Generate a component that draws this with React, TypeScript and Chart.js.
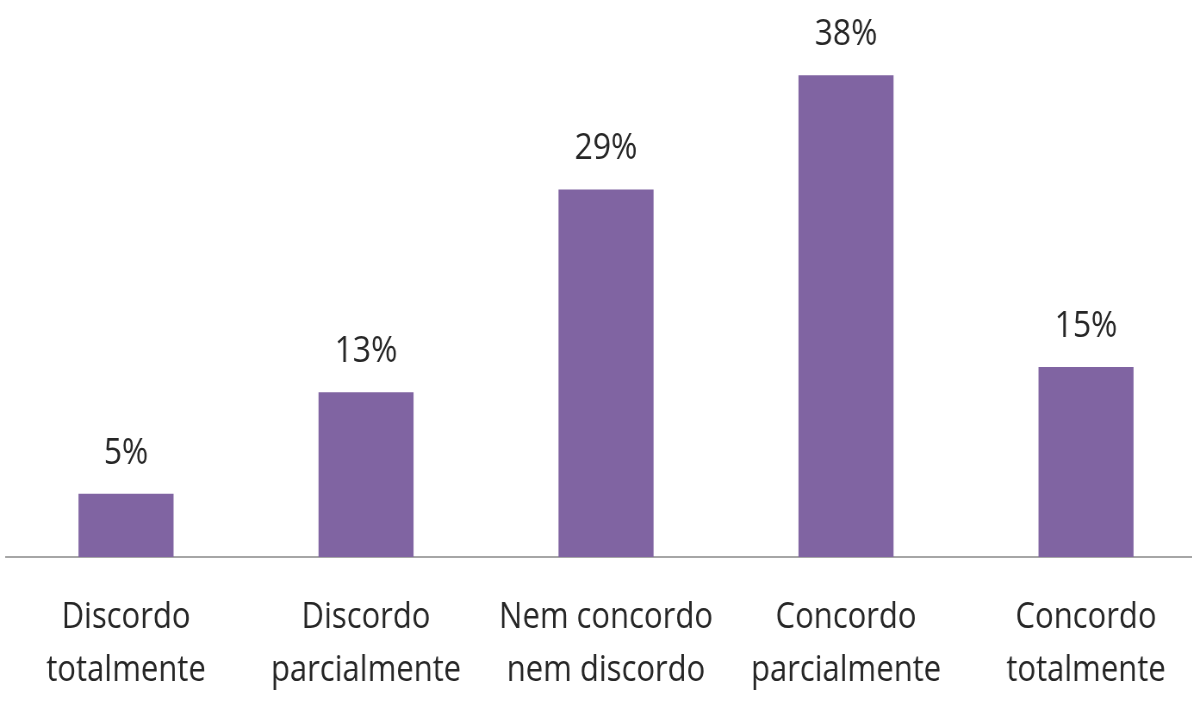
import React, { useEffect, useRef } from "react";
import { Chart, registerables } from "chart.js";

Chart.register(...registerables);

const categories: string[][] = [
  ["Discordo", "totalmente"],
  ["Discordo", "parcialmente"],
  ["Nem concordo", "nem discordo"],
  ["Concordo", "parcialmente"],
  ["Concordo", "totalmente"],
];
const values: number[] = [5, 13, 29, 38, 15];
const valueLabels: string[] = ["5%", "13%", "29%", "38%", "15%"];

const FONT = "'Open Sans', sans-serif";
const TEXT = "#262626";
const BAR = "#8064A2";

// Canvas is drawn wider and displayed compressed horizontally (narrow type look)
const DISPLAY_W = 1206;
const VIRTUAL_W = 1400;
const H = 718;

const labelPlugin = {
  id: "valueLabels",
  afterDatasetsDraw(chart: any) {
    const ctx = chart.ctx;
    const meta = chart.getDatasetMeta(0);
    ctx.save();
    ctx.font = `37px ${FONT}`;
    ctx.fillStyle = TEXT;
    ctx.textAlign = "center";
    ctx.textBaseline = "alphabetic";
    meta.data.forEach((bar: any, i: number) => {
      ctx.fillText(valueLabels[i], bar.x, bar.y - 30);
    });
    ctx.restore();
  },
};

export default function App() {
  const ref = useRef<HTMLCanvasElement>(null);
  useEffect(() => {
    if (!ref.current) return;
    const chart = new Chart(ref.current, {
      type: "bar",
      data: {
        labels: categories,
        datasets: [
          {
            data: values,
            backgroundColor: BAR,
            borderWidth: 0,
            categoryPercentage: 1,
            barPercentage: 0.396,
          },
        ],
      },
      options: {
        animation: false,
        responsive: false,
        maintainAspectRatio: false,
        devicePixelRatio: 1,
        layout: { padding: { top: 50, left: 7, right: 0, bottom: 0 } },
        plugins: { legend: { display: false }, tooltip: { enabled: false } },
        scales: {
          x: {
            grid: { display: false, drawTicks: false },
            border: { display: true, color: "#A6A6A6", width: 2 },
            ticks: {
              color: TEXT,
              font: { family: FONT, size: 36, lineHeight: 1.47 },
              padding: 34,
              maxRotation: 0,
              autoSkip: false,
            },
            afterFit(scale: any) {
              scale.height = 161;
            },
          },
          y: {
            display: false,
            min: 0,
            max: 40,
          },
        },
      },
      plugins: [labelPlugin],
    });
    return () => chart.destroy();
  }, []);
  return (
    <div
      style={{
        position: "fixed",
        left: 0,
        top: 0,
        width: DISPLAY_W,
        height: H,
        overflow: "hidden",
        background: "#fff",
      }}
    >
      <canvas
        ref={ref}
        width={VIRTUAL_W}
        height={H}
        style={{ display: "block", width: DISPLAY_W, height: H }}
      />
    </div>
  );
}
